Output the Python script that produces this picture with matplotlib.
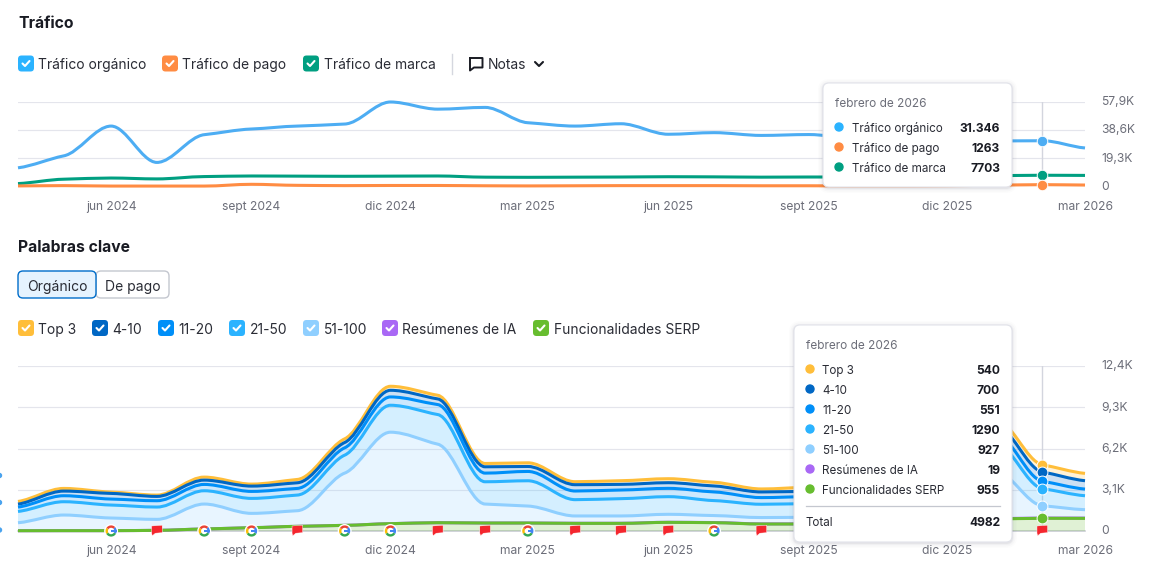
import numpy as np
import pandas as pd
import matplotlib
matplotlib.use("Agg")
import matplotlib.pyplot as plt
import matplotlib.dates as mdates
from matplotlib.path import Path
from matplotlib.patches import PathPatch, FancyBboxPatch, Circle, Wedge, Polygon, Rectangle
from matplotlib.transforms import ScaledTranslation

plt.rcParams['font.family'] = ['Inter', 'DejaVu Sans']

W, H = 1164, 569

# data, one value per month
months = pd.date_range('2024-04-01', periods=24, freq='MS')

organic = [12800, 21000, 41400, 16500, 35500, 39400, 41400, 42800, 57900, 53000, 54200, 43700,
           41400, 43000, 35800, 36900, 35000, 35600, 33000, 31000, 31000, 31200, 31346, 26400]
paid = [400, 600, 300, 300, 300, 1500, 800, 600, 700, 700, 500, 400,
        500, 600, 600, 600, 500, 500, 400, 400, 500, 900, 1263, 1000]
brand = [2000, 5000, 5800, 5200, 6800, 7200, 7100, 7000, 7100, 7200, 6400, 6300,
         6400, 6500, 6700, 6600, 6400, 6500, 6500, 6700, 7000, 7400, 7703, 7600]

serp = [20, 25, 25, 50, 150, 250, 350, 425, 550, 625, 600, 600,
        575, 575, 650, 625, 525, 525, 560, 650, 800, 900, 955, 950]
ai = [0, 0, 0, 0, 0, 0, 0, 0, 0, 0, 0, 0,
      5, 5, 5, 10, 10, 10, 10, 15, 15, 19, 19, 19]
pos51 = [600, 1175, 950, 825, 1875, 1075, 1175, 3925, 6875, 5900, 1425, 1275,
         550, 550, 600, 525, 475, 500, 520, 800, 2300, 3600, 927, 630]
pos21 = [850, 1000, 975, 925, 1000, 1125, 1175, 1350, 2025, 2225, 1675, 1900,
         1225, 1300, 1325, 1125, 1000, 1025, 1020, 1150, 1700, 2100, 1290, 1050]
pos11 = [325, 450, 450, 475, 475, 525, 500, 550, 625, 750, 650, 700,
         650, 650, 625, 650, 500, 525, 520, 550, 620, 700, 551, 500]
pos4 = [225, 350, 425, 325, 325, 400, 425, 400, 500, 425, 475, 375,
        475, 425, 425, 450, 425, 400, 420, 430, 520, 650, 700, 630]
top3 = [200, 200, 100, 100, 225, 150, 250, 275, 300, 275, 250, 275,
        225, 275, 300, 275, 225, 300, 280, 300, 350, 450, 540, 550]

tick_dates = ['2024-06-01', '2024-09-01', '2024-12-01', '2025-03-01',
              '2025-06-01', '2025-09-01', '2025-12-01', '2026-03-01']
tick_names = ['jun 2024', 'sept 2024', 'dic 2024', 'mar 2025',
              'jun 2025', 'sept 2025', 'dic 2025', 'mar 2026']
traffic_ticks = [0, 19300, 38600, 57900]
traffic_tick_names = ['0', '19,3K', '38,6K', '57,9K']
kw_ticks = [0, 3100, 6200, 9300, 12400]
kw_tick_names = ['0', '3,1K', '6,2K', '9,3K', '12,4K']

google_notes = ['2024-06-01', '2024-08-01', '2024-09-01', '2024-11-01', '2024-12-01',
                '2025-03-01', '2025-07-01']
flag_notes = ['2024-07-01', '2024-10-01', '2025-01-01', '2025-02-01', '2025-04-01',
              '2025-05-01', '2025-06-01', '2025-08-01', '2025-09-01', '2026-02-01']

hover = pd.Timestamp('2026-02-01')

C_ORG = '#2bb3ff'
C_ORG_LINE = '#4dadf3'
C_PAID = '#ff8c43'
C_BRAND = '#009f81'
C_TOP3 = '#ffbe3a'
C_4 = '#0067c4'
C_11 = '#008ff8'
C_21 = '#2bb3ff'
C_51 = '#8fcfff'
C_AI = '#a968f5'
C_SERP = '#67bd2f'
GRID = '#e4e5ec'
GREY = '#6c6e79'
DARK = '#191b23'


def curve_parts(x, y):
    # bezier through the monthly values, monotone but with softer tangents so shelves stay flat
    x = np.asarray(x, dtype=float)
    y = np.asarray(y, dtype=float)
    h = np.diff(x)
    s = np.diff(y) / h
    t = np.zeros(len(x))
    for i in range(1, len(x) - 1):
        p = (s[i - 1] * h[i] + s[i] * h[i - 1]) / (h[i - 1] + h[i])
        t[i] = 0.45 * (np.sign(s[i - 1]) + np.sign(s[i])) * min(abs(s[i - 1]), abs(s[i]), 0.5 * abs(p))
    t[0] = 0.5 * s[0]
    t[-1] = 0.5 * s[-1]
    verts = [(x[0], y[0])]
    for i in range(len(x) - 1):
        d = h[i] / 3
        verts.append((x[i] + d, y[i] + d * t[i]))
        verts.append((x[i + 1] - d, y[i + 1] - d * t[i + 1]))
        verts.append((x[i + 1], y[i + 1]))
    return verts


def draw_line(ax, x, y, color, lw=2.2, z=3):
    verts = curve_parts(x, y)
    codes = [Path.MOVETO] + [Path.CURVE4] * (len(verts) - 1)
    ax.add_patch(PathPatch(Path(verts, codes), fill=False, edgecolor=color, lw=lw,
                           capstyle='butt', joinstyle='round', clip_on=False, zorder=z))


def draw_band(ax, x, low, up, color, alpha=0.2):
    a = curve_parts(x, up)
    b = curve_parts(x, low)[::-1]
    verts = a + b + [a[0]]
    codes = [Path.MOVETO] + [Path.CURVE4] * (len(a) - 1) + [Path.LINETO] \
        + [Path.CURVE4] * (len(b) - 1) + [Path.CLOSEPOLY]
    ax.add_patch(PathPatch(Path(verts, codes), facecolor=color, edgecolor='none',
                           alpha=alpha, zorder=2))


def setup_axes(ax, ticks, names):
    ax.set_xlim(mdates.date2num(months[0]), mdates.date2num(months[-1]))
    ax.set_ylim(ticks[0], ticks[-1])
    ax.patch.set_alpha(0)
    for sp in ax.spines.values():
        sp.set_visible(False)
    ax.set_xticks(mdates.date2num(pd.to_datetime(tick_dates)))
    ax.set_xticklabels(tick_names, fontsize=8.7, color=GREY)
    ax.set_yticks(ticks)
    ax.set_yticklabels(names, fontsize=8.7, color=GREY)
    ax.yaxis.tick_right()
    ax.tick_params(axis='x', length=0, pad=10.3)
    ax.tick_params(axis='y', length=0, pad=11.5)
    ax.grid(axis='y', color=GRID, lw=0.85, zorder=0)
    ax.set_axisbelow(True)
    # right hand labels sit a pixel above their grid line
    shift = ScaledTranslation(0, 1.2 / 100, fig.dpi_scale_trans)
    for lbl in ax.get_yticklabels():
        lbl.set_transform(lbl.get_transform() + shift)


fig = plt.figure(figsize=(W / 100, H / 100), dpi=100, facecolor='white')
x = mdates.date2num(months)
hx = mdates.date2num(hover)
hi = list(months).index(hover)

# traffic chart
ax1 = fig.add_axes([18 / W, 1 - 186.5 / H, 1067 / W, 84.5 / H])
setup_axes(ax1, traffic_ticks, traffic_tick_names)
ax1.plot([hx, hx], [0, 57900], color='#d3d5de', lw=1, zorder=1)
draw_line(ax1, x, brand, C_BRAND)
draw_line(ax1, x, organic, C_ORG_LINE)
draw_line(ax1, x, paid, C_PAID)
for vals, col in [(organic, C_ORG_LINE), (brand, C_BRAND), (paid, C_PAID)]:
    ax1.plot(hx, vals[hi], 'o', ms=7.6, mfc=col, mec='white', mew=0.7, clip_on=False, zorder=5)

# keyword chart, stacked from the bottom
ax2 = fig.add_axes([18 / W, 1 - 531 / H, 1067 / W, 165 / H])
setup_axes(ax2, kw_ticks, kw_tick_names)
ax2.plot(x[[0, -1]], [0, 0], color='#c4c7cf', lw=1.1, zorder=1.5, clip_on=False)
ax2.plot([hx, hx], [0, 12400], color='#d3d5de', lw=1, zorder=1)

stack = [serp, ai, pos51, pos21, pos11, pos4, top3]
cols = [C_SERP, C_AI, C_51, C_21, C_11, C_4, C_TOP3]
cum = np.cumsum(np.array(stack, dtype=float), axis=0)
low = np.zeros(len(x))
for i in range(len(stack)):
    if i != 1:
        draw_band(ax2, x, low, cum[i], cols[i])
    low = cum[i]
for i in range(len(stack) - 1, -1, -1):
    draw_line(ax2, x, cum[i], cols[i])
for i in [6, 5, 4, 3, 2, 0]:
    ax2.plot(hx, cum[i][hi], 'o', ms=7.8, mfc=cols[i], mec='white', mew=0.7, clip_on=False, zorder=5)

# overlay in pixels for the page elements
ui = fig.add_axes([0, 0, 1, 1])
ui.set_xlim(0, W)
ui.set_ylim(H, 0)
ui.axis('off')
ui.patch.set_alpha(0)


def rbox(x0, y0, w, h, r, fc, ec='none', lw=1, z=1, alpha=1):
    ui.add_patch(FancyBboxPatch((x0, y0), w, h, boxstyle=f'round,pad=0,rounding_size={r}',
                                facecolor=fc, edgecolor=ec, lw=lw, zorder=z, alpha=alpha))


def checkbox(x0, yc, color, label):
    rbox(x0, yc - 8, 16, 16, 3.5, color)
    ui.plot([x0 + 4.5, x0 + 7, x0 + 11.5], [yc, yc + 2.5, yc - 2.5], color='white', lw=1.5,
            solid_capstyle='round', solid_joinstyle='round', zorder=2)
    ui.text(x0 + 20.5, yc, label, fontsize=9.95, color='#2a2c35', va='center_baseline', ha='left')


def tooltip(x0, y0, w, h):
    for grow, a in [(5, 0.012), (3.5, 0.02), (2, 0.03), (1, 0.05)]:
        rbox(x0 - grow, y0 - grow + 1, w + 2 * grow, h + 2 * grow, 6 + grow, '#20233a', z=10, alpha=a)
    rbox(x0, y0, w, h, 6, 'white', ec='#e2e3ea', lw=0.8, z=11)


def tip_row(dot_x, y, color, label, value, right=1000):
    ui.add_patch(Circle((dot_x, y), 4, color=color, zorder=12))
    ui.text(dot_x + 12.5, y, label, fontsize=8.4, color='#2a2c35', va='center_baseline', zorder=12)
    ui.text(right, y, value, fontsize=8.7, color=DARK, fontweight='bold', ha='right',
            va='center_baseline', zorder=12)


ui.text(18, 22, 'Tráfico', fontsize=11.3, fontweight='bold', color=DARK, va='center_baseline')
checkbox(18, 63.5, C_ORG, 'Tráfico orgánico')
checkbox(162, 63.5, C_PAID, 'Tráfico de pago')
checkbox(303, 63.5, C_BRAND, 'Tráfico de marca')
ui.plot([451.5, 451.5], [54, 74], color='#d5d7df', lw=1)

# notes icon and chevron
ui.plot([470, 482.5, 482.5, 474, 470, 470], [58, 58, 67.5, 67.5, 70.5, 58], color=DARK, lw=1.4,
        solid_joinstyle='round')
ui.text(488, 63.5, 'Notas', fontsize=9.95, color='#2a2c35', va='center_baseline')
ui.plot([535, 539, 543], [62, 66, 62], color=DARK, lw=1.5, solid_capstyle='round',
        solid_joinstyle='round')

ui.text(18, 246, 'Palabras clave', fontsize=11.3, fontweight='bold', color=DARK, va='center_baseline')
rbox(96, 271, 73, 27, 5, 'white', ec='#c4c7cf', lw=1)
rbox(18, 271, 78, 27, 5, '#e6f3fe', ec='#006dca', lw=1, z=1.5)
ui.text(57, 285, 'Orgánico', fontsize=10, color='#2a2c35', ha='center', va='center_baseline', zorder=3)
ui.text(132.5, 285, 'De pago', fontsize=10, color='#2a2c35', ha='center', va='center_baseline', zorder=3)

checkbox(18, 328, C_TOP3, 'Top 3')
checkbox(92, 328, C_4, '4-10')
checkbox(158, 328, C_11, '11-20')
checkbox(229, 328, C_21, '21-50')
checkbox(303, 328, C_51, '51-100')
checkbox(382, 328, C_AI, 'Resúmenes de IA')
checkbox(533, 328, C_SERP, 'Funcionalidades SERP')


def month_px(d):
    return ax2.transData.transform((mdates.date2num(pd.Timestamp(d)), 0))[0]


def google_icon(xc, yc):
    ui.add_patch(Circle((xc, yc), 6.3, color='white', zorder=6))
    r = 5.6
    # y is flipped here so the angles run clockwise on screen
    for a0, a1, col in [(-45, 30, '#4285f4'), (30, 150, '#34a853'), (150, 215, '#fbbc05'), (215, 315, '#ea4335')]:
        ui.add_patch(Wedge((xc, yc), r, a0, a1, width=2.4, color=col, lw=0, zorder=7))
    ui.add_patch(Rectangle((xc - 0.2, yc - 1.1), r, 2.2, color='#4285f4', lw=0, zorder=7))


def flag_icon(xc, yc):
    pts = [(xc - 5.3, yc - 5), (xc + 5.3, yc - 5.8), (xc + 5.3, yc + 1.7), (xc - 1.5, yc + 2.2),
           (xc - 4.6, yc + 4.8), (xc - 5.3, yc + 2.2)]
    ui.add_patch(Polygon(pts, closed=True, facecolor='#f4262e', edgecolor='white', lw=0.3, zorder=7))


fig.canvas.draw()
for d in google_notes:
    google_icon(month_px(d), 531)
for d in flag_notes:
    flag_icon(month_px(d), 531)

# clipped marks on the left edge of the screenshot
for yc in [475.5, 502.5, 530]:
    ui.add_patch(Circle((-0.5, yc), 2, color='#4aa3ee', zorder=1, clip_on=True))

# tooltips
tooltip(823, 83, 189, 104)
ui.text(835, 102.5, 'febrero de 2026', fontsize=8.5, color=GREY, va='center_baseline', zorder=12)
tip_row(839, 127, C_ORG, 'Tráfico orgánico', '31.346')
tip_row(839, 147, C_PAID, 'Tráfico de pago', '1263')
tip_row(839, 167, C_BRAND, 'Tráfico de marca', '7703')

tooltip(794, 325, 218, 217)
ui.text(806, 344.5, 'febrero de 2026', fontsize=8.5, color=GREY, va='center_baseline', zorder=12)
rows = [(C_TOP3, 'Top 3', '540'), (C_4, '4-10', '700'), (C_11, '11-20', '551'), (C_21, '21-50', '1290'),
        (C_51, '51-100', '927'), (C_AI, 'Resúmenes de IA', '19'), (C_SERP, 'Funcionalidades SERP', '955')]
for i, (c, name, val) in enumerate(rows):
    tip_row(810, 369 + 20 * i, c, name, val)
ui.plot([806, 1000], [505.5, 505.5], color='#c4c7cf', lw=0.9, zorder=12)
ui.text(806, 522, 'Total', fontsize=8.4, color='#2a2c35', va='center_baseline', zorder=12)
ui.text(1000, 522, '4982', fontsize=8.7, color=DARK, fontweight='bold', ha='right',
        va='center_baseline', zorder=12)

fig.savefig('out.png', dpi=100)
